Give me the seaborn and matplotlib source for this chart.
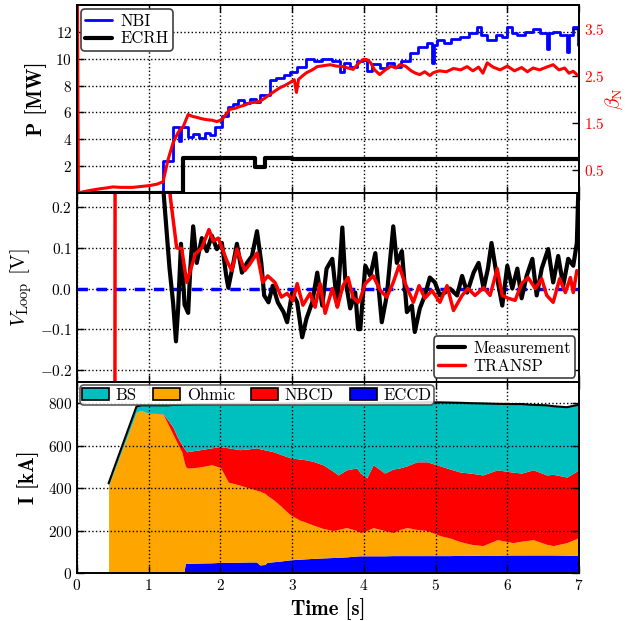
import matplotlib.pyplot as plt
import seaborn as sns
from matplotlib.patches import Patch

# heating power [MW], step traces
t_nbi = [0.00, 1.20, 1.34, 1.42, 1.45, 1.55, 1.62, 1.70, 1.78, 1.86, 1.93, 2.02, 2.10, 2.17,
         2.25, 2.33, 2.41, 2.49, 2.55, 2.69, 2.78, 2.88, 2.97, 3.07, 3.20, 3.30, 3.42, 3.55,
         3.67, 3.72, 3.81, 3.90, 3.99, 4.05, 4.12, 4.22, 4.32, 4.42, 4.52, 4.64, 4.76, 4.88,
         4.95, 4.98, 5.02, 5.12, 5.22, 5.34, 5.46, 5.58, 5.64, 5.72, 5.84, 5.92, 6.00, 6.07,
         6.14, 6.25, 6.36, 6.46, 6.55, 6.58, 6.64, 6.74, 6.83, 6.86, 6.92, 6.99, 7.00]
p_nbi = [0.0, 2.4, 4.95, 3.85, 4.95, 4.2, 4.4, 4.1, 4.5, 4.3, 4.95, 5.7, 6.4, 6.6,
         6.9, 6.7, 7.0, 6.8, 7.3, 8.4, 8.6, 8.8, 9.0, 9.4, 10.0, 9.8, 10.0, 9.8,
         9.0, 9.7, 9.4, 9.8, 9.9, 9.1, 9.6, 9.3, 9.7, 9.4, 9.8, 10.4, 10.9, 11.2,
         9.7, 11.0, 11.4, 11.2, 11.5, 11.6, 11.9, 12.4, 11.8, 11.4, 11.8, 11.6, 12.4, 11.9,
         11.8, 12.0, 12.2, 11.9, 10.7, 11.9, 12.0, 11.8, 10.5, 11.8, 12.4, 11.0, 11.8]

t_ecrh = [0.00, 1.48, 2.48, 2.62, 3.00, 7.00]
p_ecrh = [0.0, 2.6, 1.9, 2.6, 2.5, 2.5]

# normalised beta
t_beta = [0.00, 0.02, 0.10, 0.20, 0.32, 0.42, 0.50, 0.60, 0.78, 0.90, 1.02, 1.12, 1.20, 1.27,
          1.34, 1.41, 1.48, 1.55, 1.61, 1.67, 1.74, 1.81, 1.88, 1.95, 2.02, 2.08, 2.13, 2.20,
          2.27, 2.34, 2.41, 2.48, 2.55, 2.62, 2.69, 2.76, 2.83, 2.90, 2.97, 3.03, 3.06, 3.09,
          3.15, 3.20, 3.28, 3.35, 3.44, 3.53, 3.62, 3.71, 3.78, 3.85, 3.92, 3.99, 4.04, 4.09,
          4.15, 4.22, 4.30, 4.38, 4.45, 4.50, 4.58, 4.66, 4.72, 4.78, 4.85, 4.92, 4.97, 5.05,
          5.15, 5.25, 5.35, 5.44, 5.52, 5.60, 5.66, 5.72, 5.80, 5.90, 6.00, 6.10, 6.20, 6.28,
          6.36, 6.45, 6.55, 6.64, 6.72, 6.80, 6.86, 6.92, 6.97, 7.00]
beta_n = [6.0, 0.0, 0.03, 0.06, 0.09, 0.11, 0.13, 0.12, 0.12, 0.14, 0.16, 0.19, 0.24, 0.71,
          1.07, 1.29, 1.41, 1.67, 1.63, 1.61, 1.58, 1.56, 1.55, 1.52, 1.56, 1.68, 1.78, 1.80,
          1.84, 1.87, 1.92, 1.93, 1.95, 2.02, 2.10, 2.17, 2.24, 2.29, 2.35, 2.41, 2.14, 2.42,
          2.50, 2.56, 2.62, 2.69, 2.71, 2.73, 2.70, 2.69, 2.66, 2.63, 2.75, 2.84, 2.84, 2.78,
          2.62, 2.52, 2.62, 2.70, 2.66, 2.73, 2.70, 2.60, 2.55, 2.52, 2.58, 2.50, 2.56, 2.60,
          2.58, 2.65, 2.62, 2.69, 2.60, 2.68, 2.55, 2.77, 2.68, 2.62, 2.70, 2.60, 2.67, 2.58,
          2.66, 2.62, 2.68, 2.73, 2.62, 2.66, 2.55, 2.59, 2.52, 2.48]

# loop voltage [V]
t_meas = [1.15, 1.21, 1.25, 1.29, 1.34, 1.38, 1.41, 1.45, 1.50, 1.55, 1.58, 1.62, 1.67, 1.74,
          1.81, 1.88, 1.95, 2.02, 2.08, 2.11, 2.18, 2.23, 2.30, 2.37, 2.44, 2.51, 2.57, 2.61,
          2.67, 2.73, 2.80, 2.88, 2.93, 3.00, 3.07, 3.14, 3.20, 3.28, 3.35, 3.42, 3.48, 3.56,
          3.63, 3.70, 3.74, 3.81, 3.88, 3.92, 3.95, 4.02, 4.09, 4.16, 4.25, 4.32, 4.41, 4.46,
          4.53, 4.60, 4.67, 4.71, 4.78, 4.85, 4.92, 4.99, 5.06, 5.13, 5.20, 5.30, 5.37, 5.44,
          5.53, 5.60, 5.67, 5.73, 5.78, 5.86, 5.93, 6.00, 6.07, 6.14, 6.20, 6.27, 6.35, 6.41,
          6.48, 6.57, 6.64, 6.71, 6.78, 6.85, 6.92, 6.97, 7.00]
v_meas = [0.60, 0.23, 0.14, 0.05, -0.035, -0.13, -0.05, 0.11, -0.04, -0.06, 0.05, 0.153, 0.063, 0.124,
          0.092, 0.13, 0.097, 0.112, 0.032, 0.002, 0.063, 0.11, 0.039, 0.063, 0.08, 0.141, 0.063, -0.017,
          -0.034, 0.007, -0.034, -0.058, -0.083, -0.01, -0.034, -0.12, -0.074, -0.034, 0.039, -0.042, 0.049, 0.073,
          -0.042, 0.15, 0.024, -0.049, -0.01, -0.10, -0.10, 0.056, 0.031, 0.087, -0.083, -0.017, 0.153, 0.063,
          0.092, -0.058, -0.042, -0.107, -0.049, -0.017, 0.027, 0.015, -0.017, -0.01, 0.0, -0.017, 0.031, -0.01,
          0.039, 0.063, 0.0, 0.049, 0.112, 0.024, -0.042, 0.056, 0.0, 0.049, -0.024, 0.031, 0.073, -0.017,
          0.049, 0.097, 0.015, 0.08, 0.007, 0.073, 0.056, 0.112, 0.30]

t_transp = [0.52, 0.54, 1.25, 1.30, 1.39, 1.46, 1.53, 1.65, 1.74, 1.84, 1.90, 1.97, 2.09, 2.16,
            2.23, 2.34, 2.41, 2.51, 2.59, 2.66, 2.76, 2.85, 2.93, 3.01, 3.07, 3.15, 3.25, 3.32,
            3.39, 3.46, 3.56, 3.63, 3.71, 3.78, 3.85, 3.92, 3.95, 4.02, 4.13, 4.23, 4.32, 4.41,
            4.49, 4.57, 4.69, 4.77, 4.85, 4.95, 5.06, 5.16, 5.25, 5.37, 5.45, 5.55, 5.67, 5.76,
            5.86, 5.93, 6.01, 6.11, 6.20, 6.29, 6.39, 6.48, 6.55, 6.64, 6.73, 6.81, 6.88, 6.92,
            6.97]
v_transp = [-3.0, 3.0, 0.40, 0.227, 0.10, 0.098, 0.015, 0.085, 0.10, 0.145, 0.117, 0.124, 0.068, 0.044,
            0.097, 0.044, 0.06, 0.087, 0.015, 0.031, 0.015, -0.021, -0.012, -0.03, 0.012, -0.041, -0.012, -0.046,
            0.012, -0.061, 0.0, -0.046, 0.007, 0.027, -0.022, -0.034, -0.025, 0.012, 0.031, -0.005, -0.021, 0.015,
            0.056, 0.015, -0.034, 0.007, -0.024, -0.005, -0.034, 0.007, -0.054, -0.017, 0.0, -0.017, 0.002, -0.017,
            0.049, -0.017, -0.024, -0.029, 0.012, 0.027, 0.0, 0.024, -0.017, -0.034, 0.024, -0.01, 0.027, -0.01,
            0.044]

# plasma current [kA]: upper edge of each stacked layer
t_cur = [0.44, 0.50, 0.60, 0.70, 0.83, 0.90, 1.00, 1.10, 1.20, 1.27, 1.34, 1.40, 1.46, 1.49,
         1.51, 1.53, 1.60, 1.72, 1.88, 2.00, 2.11, 2.27, 2.40, 2.50, 2.55, 2.62, 2.65, 2.74,
         2.83, 2.97, 3.10, 3.20, 3.30, 3.43, 3.57, 3.64, 3.76, 3.90, 3.95, 4.04, 4.13, 4.29,
         4.41, 4.50, 4.60, 4.74, 4.88, 5.06, 5.20, 5.34, 5.50, 5.66, 5.86, 6.08, 6.20, 6.36,
         6.55, 6.64, 6.83, 7.00]
top_eccd = [0, 0, 0, 0, 0, 0, 0, 0, 0, 0, 0, 0, 0, 0,
            45, 45, 46, 47, 48, 50, 50, 51, 52, 52, 38, 40, 50, 53,
            56, 62, 65, 67, 69, 71, 73, 74, 76, 80, 81, 81, 81, 81,
            82, 82, 82, 82, 82, 82, 82, 83, 83, 84, 84, 85, 85, 85,
            85, 85, 84, 83]
top_ohmic = [410, 465, 554, 643, 760, 765, 752, 752, 748, 700, 652, 610, 571, 530,
             505, 495, 495, 500, 510, 497, 428, 414, 400, 390, 385, 375, 366, 345,
             319, 275, 250, 238, 225, 210, 200, 205, 214, 200, 190, 200, 214, 200,
             190, 205, 214, 205, 200, 176, 165, 148, 135, 129, 157, 143, 150, 157,
             135, 129, 143, 167]
top_nbcd = [410, 465, 554, 643, 760, 765, 752, 752, 750, 720, 686, 640, 605, 590,
            580, 571, 575, 581, 590, 595, 590, 581, 585, 590, 585, 580, 578, 571,
            560, 543, 537, 533, 525, 510, 480, 462, 486, 495, 471, 448, 510, 471,
            490, 495, 505, 524, 524, 505, 490, 476, 470, 462, 486, 475, 471, 486,
            462, 465, 452, 486]
i_total = [422, 478, 571, 664, 785, 790, 790, 790, 790, 790, 792, 792, 793, 794,
           794, 795, 795, 796, 796, 797, 797, 797, 797, 798, 798, 798, 798, 798,
           798, 799, 799, 799, 800, 800, 800, 800, 800, 800, 800, 800, 800, 801,
           801, 802, 802, 803, 804, 804, 803, 802, 800, 799, 797, 796, 796, 792,
           790, 786, 781, 793]

sns.set_style('ticks')
plt.rcParams.update({
    'font.family': ['cmr10', 'DejaVu Serif'],
    'mathtext.fontset': 'cm',
    'axes.formatter.use_mathtext': True,
    'font.size': 11,
    'axes.edgecolor': 'k',
    'axes.linewidth': 1.4,
    'text.color': 'k',
    'axes.labelcolor': 'k',
    'xtick.color': 'k',
    'ytick.color': 'k',
    'xtick.direction': 'in',
    'ytick.direction': 'in',
    'xtick.top': True,
    'ytick.right': True,
    'xtick.major.size': 5,
    'ytick.major.size': 5,
    'xtick.major.width': 1.0,
    'ytick.major.width': 1.0,
    'xtick.labelsize': 11,
    'ytick.labelsize': 11,
})

bold = ['cmb10', 'DejaVu Serif']
line_kw = dict(estimator=None, sort=False)
leg_kw = dict(handlelength=1.6, borderpad=0.25, labelspacing=0.15, handletextpad=0.5,
              borderaxespad=0.25, fancybox=True, edgecolor='0.25')

fig = plt.figure(figsize=(6.25, 6.21), dpi=100)
ax_p = fig.add_axes([0.1232, 0.6892, 0.8032, 0.3027])
ax_v = fig.add_axes([0.1232, 0.3849, 0.8032, 0.3043], sharex=ax_p)
ax_i = fig.add_axes([0.1232, 0.0773, 0.8032, 0.3076], sharex=ax_p)
ax_b = ax_p.twinx()

# top: heating power and beta
sns.lineplot(x=t_nbi, y=p_nbi, ax=ax_p, color='b', lw=2, drawstyle='steps-post',
             label='NBI', **line_kw)
sns.lineplot(x=t_ecrh, y=p_ecrh, ax=ax_p, color='k', lw=3, drawstyle='steps-post',
             label='ECRH', **line_kw)
sns.lineplot(x=t_beta, y=beta_n, ax=ax_b, color='r', lw=2.2, legend=False, **line_kw)

ax_p.set_xlim(0, 7)
ax_p.set_ylim(0, 14)
ax_p.set_yticks([2, 4, 6, 8, 10, 12])
ax_p.grid(True, ls=':', color='k', lw=1)
ax_p.tick_params(labelbottom=False, right=False)
ax_p.set_ylabel('P [MW]', fontsize=15, fontfamily=bold, labelpad=6)
leg = ax_p.legend(loc='upper left', fontsize=12, framealpha=1, **leg_kw)
leg.get_frame().set_linewidth(1.2)

ax_b.set_ylim(0, 4)
ax_b.set_yticks([0.5, 1.5, 2.5, 3.5])
ax_b.tick_params(axis='y', labelcolor='r', right=True)
ax_b.set_ylabel(r'$\beta_\mathrm{N}$', color='r', fontsize=14)
ax_b.yaxis.set_label_coords(1.048, 0.5)

# middle: loop voltage
ax_v.axhline(0, color='b', ls='--', lw=2.5, dashes=(3, 2.5), zorder=1.5)
sns.lineplot(x=t_meas, y=v_meas, ax=ax_v, color='k', lw=3, label='Measurement', **line_kw)
sns.lineplot(x=t_transp, y=v_transp, ax=ax_v, color='r', lw=2.5, label='TRANSP', **line_kw)
ax_v.set_ylim(-0.23, 0.235)
ax_v.set_yticks([-0.2, -0.1, 0.0, 0.1, 0.2])
ax_v.grid(True, ls=':', color='k', lw=1)
ax_v.tick_params(labelbottom=False)
ax_v.set_ylabel(r'$V_\mathrm{Loop}$ [V]', fontsize=15, labelpad=4)
leg = ax_v.legend(loc='lower right', fontsize=12, framealpha=1, **leg_kw)
leg.get_frame().set_linewidth(1.2)

# bottom: current composition
zero = [0] * len(t_cur)
ax_i.fill_between(t_cur, zero, top_eccd, color='#0000ff', lw=0)
ax_i.fill_between(t_cur, top_eccd, top_ohmic, color='#ffa500', lw=0)
ax_i.fill_between(t_cur, top_ohmic, top_nbcd, color='#ff0000', lw=0)
ax_i.fill_between(t_cur, top_nbcd, i_total, color='#00bfbf', lw=0)
sns.lineplot(x=t_cur, y=i_total, ax=ax_i, color='k', lw=1.5, legend=False, **line_kw)
ax_i.set_ylim(0, 900)
ax_i.set_yticks([0, 200, 400, 600, 800])
ax_i.set_xticks(range(8))
ax_i.grid(True, ls=':', color='k', lw=1)
ax_i.set_axisbelow(False)
ax_i.set_ylabel('I [kA]', fontsize=15, fontfamily=bold, labelpad=6)
ax_i.set_xlabel('Time [s]', fontsize=15, fontfamily=bold, labelpad=4)
handles = [Patch(facecolor=c, edgecolor='k', lw=1.2, label=n) for c, n in
           [('#00bfbf', 'BS'), ('#ffa500', 'Ohmic'), ('#ff0000', 'NBCD'), ('#0000ff', 'ECCD')]]
leg = ax_i.legend(handles=handles, loc='upper left', ncol=4, fontsize=12, handlelength=1.6,
                  borderpad=0.12, handletextpad=0.4, columnspacing=1.0, borderaxespad=0.2,
                  fancybox=True, edgecolor='0.25', framealpha=0.85)
leg.get_frame().set_linewidth(1.2)

fig.savefig('out.png', dpi=100)
